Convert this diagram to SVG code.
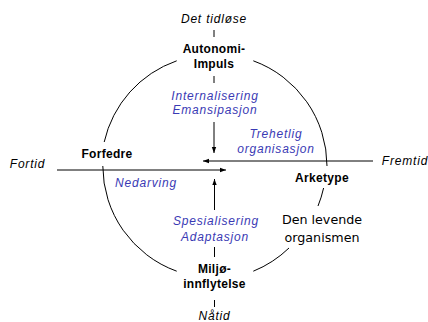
<svg xmlns="http://www.w3.org/2000/svg" width="428" height="322" viewBox="0 0 428 322">
<style>
.b{font-family:"Liberation Sans",Arial,sans-serif;font-weight:bold;font-size:12px;letter-spacing:0.3px;fill:#000;text-anchor:middle}
.i{font-family:"Liberation Sans",Arial,sans-serif;font-style:italic;font-size:12px;letter-spacing:0.8px;fill:#000;text-anchor:middle}
.bl{font-family:"Liberation Sans",Arial,sans-serif;font-style:italic;font-size:12px;letter-spacing:0.8px;fill:#3a3ab4;text-anchor:middle}
.r{font-family:"DejaVu Sans",Verdana,sans-serif;font-size:12.7px;fill:#000;text-anchor:middle}
.ln{stroke:#000;stroke-width:1;fill:none}
</style>
<defs>
<marker id="ah" markerWidth="6" markerHeight="6" refX="6" refY="3" orient="auto" markerUnits="userSpaceOnUse">
<path d="M0,0.8 L6,3 L0,5.2 Z" fill="#000"/>
</marker>
</defs>
<g id="connectors">
<path class="ln" d="M176.7,60.8 A112,112 0 0 0 104.2,142"/>
<path class="ln" d="M102.8,166 A112,112 0 0 0 176.7,271.2"/>
<path class="ln" d="M253.3,60.8 A112,112 0 0 1 327,166"/>
<path class="ln" d="M323.6,188 A112,112 0 0 1 318,206"/>
<path class="ln" d="M289,248 A112,112 0 0 1 253.3,271.2"/>
<line class="ln" x1="214" y1="30" x2="214" y2="37"/>
<line class="ln" x1="214" y1="76" x2="214" y2="83"/>
<line class="ln" x1="214" y1="122" x2="214" y2="153" marker-end="url(#ah)"/>
<line class="ln" x1="373" y1="161" x2="203" y2="161" marker-end="url(#ah)"/>
<line class="ln" x1="57" y1="170" x2="226" y2="170" marker-end="url(#ah)"/>
<line class="ln" x1="214.5" y1="210" x2="214.5" y2="179" marker-end="url(#ah)"/>
<line class="ln" x1="214.5" y1="247" x2="214.5" y2="257"/>
<line class="ln" x1="214.5" y1="300" x2="214.5" y2="307"/>
</g>
<g id="det-tidlose"><text class="i" x="214" y="22.5">Det tidløse</text></g>
<g id="autonomi-impuls"><text class="b" x="214" y="53">Autonomi-</text><text class="b" x="214" y="67.5">Impuls</text></g>
<g id="internalisering"><text class="bl" x="215" y="100">Internalisering</text><text class="bl" x="215" y="114">Emansipasjon</text></g>
<g id="trehetlig"><text class="bl" x="276" y="138">Trehetlig</text><text class="bl" x="276" y="152.5">organisasjon</text></g>
<g id="forfedre"><text class="b" x="107" y="158">Forfedre</text></g>
<g id="fortid"><text class="i" x="27.5" y="168">Fortid</text></g>
<g id="fremtid"><text class="i" x="405" y="164.5">Fremtid</text></g>
<g id="nedarving"><text class="bl" x="146" y="187">Nedarving</text></g>
<g id="arketype"><text class="b" x="322" y="181.5">Arketype</text></g>
<g id="den-levende"><text class="r" x="322" y="224">Den levende</text><text class="r" x="322" y="241.5">organismen</text></g>
<g id="spesialisering"><text class="bl" x="216" y="225">Spesialisering</text><text class="bl" x="215" y="241">Adaptasjon</text></g>
<g id="miljo"><text class="b" x="214.5" y="272.5">Miljø-</text><text class="b" x="214.5" y="288">innflytelse</text></g>
<g id="natid"><text class="i" x="214.5" y="320">Nåtid</text></g>
</svg>
